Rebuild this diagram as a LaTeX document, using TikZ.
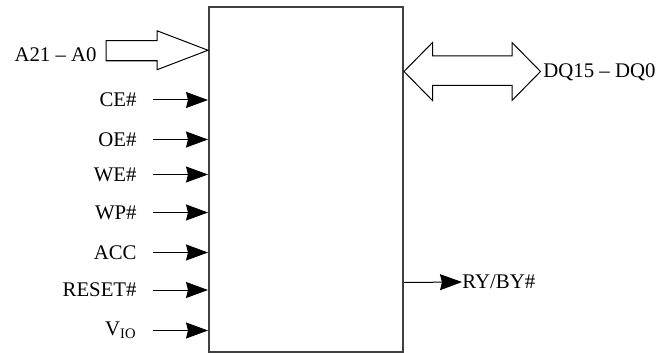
\documentclass[tikz,border=0pt]{standalone}
\usepackage{fontspec}
\setmainfont{Liberation Serif}
\usetikzlibrary{positioning}
\usetikzlibrary{arrows.meta}
\usetikzlibrary{calc}

\begin{document}
\begin{tikzpicture}[x=0.5pt,y=-0.5pt,
    font=\fontsize{10.4}{12}\selectfont,
    chipbox/.style={draw=black!75, line width=1pt, inner sep=0pt},
    pinarrow/.style={line width=0.5pt, -{Stealth[length=11pt, width=8pt, inset=1pt]}},
    busarrow/.style={draw, line width=0.5pt, line join=miter},
    pinlabel/.style={anchor=east, inner sep=0pt}]
	 \useasboundingbox (0,0) rectangle (670,353);

	 % the chip itself
	 \node[chipbox, minimum width=97pt, minimum height=172pt] (chip) at (306,179.5) {};

	 % address bus coming in
	 \coordinate (addr) at ($(chip.north west)!{(51-7.5)/344}!(chip.south west)$);
	 \draw[busarrow] (addr) -- ++(-51,-19.5) -- ++(0,10) -- ++(-51,0) -- ++(0,20)
	 	-- ++(51,0) -- ++(0,9) -- cycle;
	 \node[pinlabel] (addrlabel) at (97,55) {A21 -- A0};

	 % control inputs
	 \foreach \name/\txt/\ypos in {ce/CE\#/100, oe/OE\#/139.5, we/WE\#/174.5,
	 	wp/WP\#/212.5, acc/ACC/252.5, reset/RESET\#/290, vio/V\textsubscript{IO}/330.5} {
	 	\coordinate (\name) at (chip.west |- 0,\ypos);
	 	\coordinate (\name start) at (153,\ypos);
	 	\node[pinlabel] (\name label) at (137,\ypos) {\txt};
	 	\draw[pinarrow] (\name start) -- (\name);
	 }

	 % data bus, both ways
	 \coordinate (dq) at (chip.east |- 0,71.5);
	 \draw[busarrow] (dq) -- ++(28.5,-29) -- ++(0,13.5) -- ++(79.5,0) -- ++(0,-13.5)
	 	-- ++(28.5,29) -- ++(-28.5,29) -- ++(0,-15) -- ++(-79.5,0) -- ++(0,15) -- cycle;
	 \node[anchor=west, inner sep=0pt] (dqlabel) at (543,72) {DQ15 -- DQ0};

	 % ready/busy output
	 \coordinate (ry) at (chip.east |- 0,282.5);
	 \node[anchor=west, inner sep=0pt] (rylabel) at (462,282) {RY/BY\#};
	 \draw[pinarrow] (ry) -- (rylabel.west);
\end{tikzpicture}
\end{document}
